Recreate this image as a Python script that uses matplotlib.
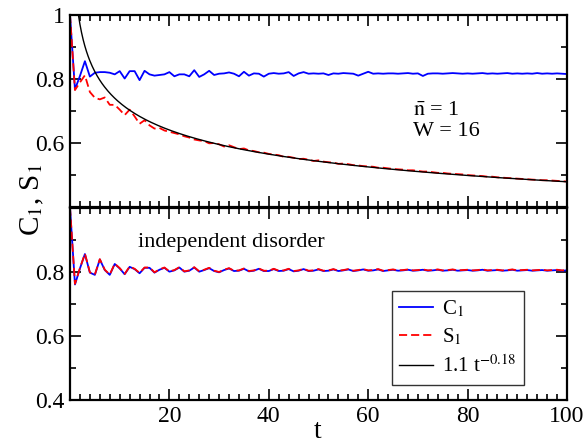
import numpy as np
import matplotlib
matplotlib.use("Agg")
import matplotlib.pyplot as plt
from matplotlib.ticker import MultipleLocator, FixedLocator, FixedFormatter

plt.rcParams['font.family'] = ['Liberation Serif', 'DejaVu Serif']
plt.rcParams['mathtext.fontset'] = 'stix'

# ---------------- data ----------------
t = list(range(0, 101))

# top panel (correlated disorder, n=1, W=16)
C1_top = [1.000, 0.768, 0.810, 0.856, 0.808, 0.820, 0.822, 0.822, 0.820, 0.815,
          0.825, 0.802, 0.825, 0.825, 0.797, 0.826, 0.815, 0.811, 0.813, 0.815,
          0.822, 0.809, 0.815, 0.815, 0.809, 0.828, 0.807, 0.815, 0.826, 0.813,
          0.817, 0.818, 0.821, 0.817, 0.809, 0.823, 0.811, 0.818, 0.817, 0.808,
          0.817, 0.819, 0.817, 0.818, 0.822, 0.810, 0.818, 0.822, 0.817, 0.818,
          0.817, 0.818, 0.813, 0.818, 0.817, 0.819, 0.818, 0.817, 0.811, 0.817,
          0.823, 0.817, 0.818, 0.817, 0.818, 0.818, 0.817, 0.818, 0.819, 0.817,
          0.818, 0.810, 0.817, 0.818, 0.818, 0.817, 0.818, 0.819, 0.818, 0.817,
          0.818, 0.817, 0.818, 0.819, 0.817, 0.818, 0.817, 0.818, 0.819, 0.817,
          0.818, 0.817, 0.818, 0.817, 0.819, 0.817, 0.818, 0.817, 0.818, 0.817,
          0.816]
S1_top = [1.000, 0.766, 0.790, 0.812, 0.760, 0.742, 0.737, 0.743, 0.720, 0.720,
          0.705, 0.688, 0.705, 0.684, 0.661, 0.672, 0.656, 0.646, 0.648, 0.640,
          0.636, 0.632, 0.628, 0.622, 0.618, 0.612, 0.609, 0.607, 0.600, 0.601,
          0.597, 0.590, 0.594, 0.588, 0.582, 0.584, 0.578, 0.576, 0.572, 0.571,
          0.567, 0.565, 0.563, 0.558, 0.558, 0.555, 0.551, 0.552, 0.549, 0.545,
          0.547, 0.543, 0.541, 0.540, 0.536, 0.537, 0.535, 0.532, 0.531, 0.529,
          0.528, 0.527, 0.524, 0.524, 0.522, 0.520, 0.519, 0.518, 0.516, 0.516,
          0.514, 0.512, 0.512, 0.510, 0.508, 0.508, 0.506, 0.505, 0.504, 0.503,
          0.501, 0.500, 0.499, 0.498, 0.496, 0.496, 0.494, 0.493, 0.492, 0.491,
          0.490, 0.489, 0.488, 0.487, 0.486, 0.485, 0.485, 0.484, 0.483, 0.482,
          0.481]

# bottom panel (independent disorder)
C1_bot = [1.000, 0.760, 0.810, 0.855, 0.797, 0.790, 0.838, 0.805, 0.790, 0.824,
          0.810, 0.792, 0.815, 0.808, 0.795, 0.812, 0.812, 0.797, 0.806, 0.812,
          0.800, 0.804, 0.813, 0.800, 0.803, 0.813, 0.800, 0.805, 0.811, 0.802,
          0.798, 0.805, 0.810, 0.802, 0.803, 0.809, 0.801, 0.803, 0.809, 0.802,
          0.802, 0.808, 0.802, 0.803, 0.808, 0.801, 0.803, 0.808, 0.802, 0.803,
          0.807, 0.802, 0.803, 0.807, 0.802, 0.804, 0.807, 0.802, 0.804, 0.807,
          0.803, 0.804, 0.807, 0.802, 0.804, 0.806, 0.803, 0.804, 0.806, 0.803,
          0.804, 0.806, 0.803, 0.804, 0.806, 0.803, 0.804, 0.806, 0.803, 0.804,
          0.805, 0.803, 0.804, 0.806, 0.803, 0.804, 0.805, 0.803, 0.804, 0.806,
          0.803, 0.804, 0.805, 0.803, 0.804, 0.805, 0.803, 0.804, 0.805, 0.803,
          0.804]
S1_bot = [1.000, 0.762, 0.811, 0.856, 0.798, 0.791, 0.839, 0.806, 0.791, 0.825,
          0.811, 0.793, 0.816, 0.809, 0.796, 0.813, 0.813, 0.798, 0.807, 0.813,
          0.801, 0.805, 0.814, 0.801, 0.804, 0.814, 0.801, 0.806, 0.812, 0.803,
          0.799, 0.806, 0.811, 0.803, 0.804, 0.810, 0.802, 0.804, 0.810, 0.803,
          0.803, 0.809, 0.803, 0.804, 0.809, 0.802, 0.804, 0.809, 0.803, 0.804,
          0.808, 0.803, 0.804, 0.808, 0.803, 0.805, 0.808, 0.803, 0.805, 0.808,
          0.804, 0.805, 0.808, 0.803, 0.805, 0.807, 0.804, 0.805, 0.807, 0.804,
          0.805, 0.807, 0.804, 0.805, 0.807, 0.804, 0.805, 0.807, 0.804, 0.805,
          0.806, 0.804, 0.805, 0.807, 0.804, 0.805, 0.806, 0.804, 0.805, 0.807,
          0.804, 0.805, 0.806, 0.804, 0.805, 0.806, 0.804, 0.805, 0.806, 0.804,
          0.805]

fit_amp = 1.1
fit_exp = -0.18

xticks = [20, 40, 60, 80, 100]
xticklabels = ['20', '40', '60', '80', '100']
yticks = [0.4, 0.6, 0.8, 1.0]
top_yticklabels = ['', '0.6', '0.8', '1']
bot_yticklabels = ['0.4', '0.6', '0.8', '']

# ---------------- figure ----------------
fig = plt.figure(figsize=(5.87, 4.45), dpi=100)
L, R = 70 / 587, 567 / 587
T, B = 1 - 15 / 445, 1 - 400 / 445
MID = 1 - 207.5 / 445
ax1 = fig.add_axes([L, MID, R - L, T - MID])
ax2 = fig.add_axes([L, B, R - L, MID - B])

tf = np.linspace(1.0, 100, 600)
fit = fit_amp * tf ** fit_exp

dash = (0, (4.5, 2.2))
ax1.plot(t, C1_top, color='#0000ff', lw=1.3)
ax1.plot(t, S1_top, color='#ff0000', lw=1.3, ls=dash)
ax1.plot(tf, fit, color='black', lw=1.0)

l1, = ax2.plot(t, C1_bot, color='#0000ff', lw=1.3)
l2, = ax2.plot(t, S1_bot, color='#ff0000', lw=1.3, ls=dash)
l3, = ax2.plot([], [], color='black', lw=1.0)

for ax in (ax1, ax2):
    ax.set_xlim(0, 100)
    ax.set_ylim(0.4, 1.0)
    ax.xaxis.set_major_locator(FixedLocator(xticks))
    ax.xaxis.set_minor_locator(MultipleLocator(2))
    ax.yaxis.set_major_locator(FixedLocator(yticks))
    ax.yaxis.set_minor_locator(MultipleLocator(0.1))
    ax.tick_params(which='both', direction='in', top=True, right=True,
                   width=1.2, labelsize=17, pad=4)
    ax.tick_params(which='major', length=8)
    ax.tick_params(which='minor', length=4)
    for s in ax.spines.values():
        s.set_linewidth(1.6)

ax1.yaxis.set_major_formatter(FixedFormatter(top_yticklabels))
ax2.yaxis.set_major_formatter(FixedFormatter(bot_yticklabels))
ax1.set_xticklabels([])
ax2.xaxis.set_major_formatter(FixedFormatter(xticklabels))

ax1.text(69, 0.6875, r'$\bar{\mathrm{n}}$ = 1', fontsize=16, va='baseline')
ax1.text(69, 0.622, 'W = 16', fontsize=16, va='baseline')
ax2.text(13.7, 0.877, 'independent disorder', fontsize=16, va='baseline')

leg = ax2.legend([l1, l2, l3],
                 [r'C$_{\mathrm{1}}$', r'S$_{\mathrm{1}}$', r'1.1 t$^{-0.18}$'],
                 loc='upper left', bbox_to_anchor=(0.648, 0.566),
                 borderaxespad=0, frameon=True, fancybox=False, fontsize=15,
                 handlelength=1.6, labelspacing=0.38, handletextpad=0.45,
                 borderpad=0.35)
leg.get_frame().set_edgecolor('black')
leg.get_frame().set_linewidth(1.0)

fig.text(32 / 587, 1 - 200 / 445, r'C$_{\mathrm{1}}$, S$_{\mathrm{1}}$',
         rotation=90, fontsize=21, ha='center', va='center')
fig.text(318 / 587, 1 - 432 / 445, 't', fontsize=20, ha='center', va='center')

fig.savefig('out.png', dpi=100)
